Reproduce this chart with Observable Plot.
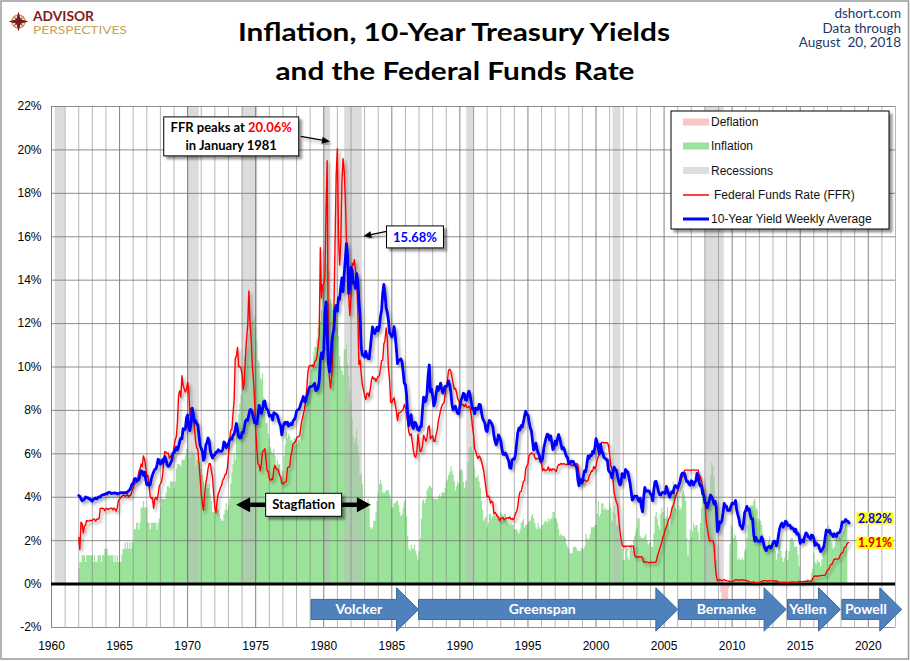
<!DOCTYPE html>
<html>
<head>
<meta charset="utf-8">
<script src="https://cdn.jsdelivr.net/npm/d3@7"></script>
<script src="https://cdn.jsdelivr.net/npm/@observablehq/plot@0.6"></script>
<style>
html,body{margin:0;padding:0;background:#fff;}
#chart{position:relative;width:910px;height:661px;overflow:hidden;}
</style>
</head>
<body>
<div id="chart"></div>
<script>
// ---------- DATA (monthly, starting January 1962) ----------
const START = 1962;

// CPI year-over-year inflation, % (Jan 1962 - Jul 2018)
const inflation = [
0.7,1.0,1.0,1.3,1.3,1.3,1.0,1.3,1.3,1.3,1.3,1.3,
1.3,1.0,1.3,1.0,1.0,1.3,1.3,1.3,1.0,1.3,1.3,1.6,
1.6,1.6,1.3,1.3,1.3,1.3,1.3,1.0,1.3,1.0,1.3,1.0,
1.0,1.0,1.3,1.6,1.6,1.9,1.6,1.9,1.6,1.9,1.6,1.9,
1.9,2.5,2.5,2.8,2.8,2.5,2.8,3.5,3.5,3.8,3.5,3.5,
3.5,2.8,2.8,2.5,2.8,2.8,2.8,2.8,2.8,2.5,2.8,3.0,
3.6,3.9,3.9,3.9,3.9,4.2,4.5,4.5,4.4,4.7,4.7,4.7,
4.4,4.7,5.3,5.5,5.5,5.5,5.4,5.7,5.7,5.7,5.9,6.2,
6.2,6.1,5.8,6.1,6.1,6.0,6.0,5.4,5.7,5.7,5.6,5.6,
5.3,5.0,4.7,4.2,4.4,4.6,4.4,4.6,4.1,3.8,3.3,3.3,
3.3,3.6,3.4,3.4,3.2,3.0,2.9,2.9,3.2,3.4,3.7,3.4,
3.6,3.9,4.6,5.1,5.5,6.0,5.7,7.4,7.4,7.8,8.3,8.7,
9.4,10.0,10.4,10.1,10.7,10.9,11.5,10.9,11.9,12.1,12.2,12.3,
11.8,11.2,10.3,10.2,9.5,9.4,9.7,8.6,7.9,7.4,7.4,6.9,
6.7,6.3,6.1,6.0,6.2,5.9,5.4,5.7,5.5,5.5,4.9,4.9,
5.2,5.9,6.4,7.0,6.7,6.9,6.8,6.6,6.6,6.4,6.7,6.7,
6.8,6.4,6.6,6.5,6.9,7.4,7.7,7.8,8.3,8.9,8.9,9.0,
9.3,9.9,10.1,10.5,10.9,10.9,11.3,11.8,12.2,12.1,12.6,13.3,
13.9,14.2,14.8,14.7,14.4,14.4,13.1,12.9,12.6,12.8,12.6,12.5,
11.8,11.4,10.5,10.0,9.8,9.6,10.8,10.8,11.0,10.1,9.6,8.9,
8.4,7.6,6.8,6.5,6.7,7.1,6.4,5.9,5.0,5.1,4.6,3.8,
3.7,3.5,3.6,3.9,3.5,2.6,2.5,2.6,2.9,2.9,3.3,3.8,
4.2,4.6,4.8,4.6,4.2,4.2,4.2,4.3,4.3,4.3,4.1,3.9,
3.5,3.5,3.7,3.7,3.8,3.8,3.6,3.3,3.1,3.2,3.5,3.8,
3.9,3.1,2.2,1.6,1.5,1.8,1.6,1.6,1.8,1.5,1.3,1.1,
1.5,2.1,3.0,3.8,3.9,3.7,3.9,4.3,4.4,4.5,4.5,4.4,
4.0,3.9,3.9,3.9,3.9,4.0,4.1,4.0,4.2,4.2,4.2,4.4,
4.7,4.8,5.0,5.1,5.4,5.2,5.0,4.7,4.3,4.5,4.7,4.6,
5.2,5.3,5.2,4.7,4.4,4.7,4.8,5.6,6.2,6.3,6.3,6.1,
5.7,5.3,4.9,4.9,5.0,4.7,4.4,3.8,3.4,2.9,3.0,3.1,
2.6,2.8,3.2,3.2,3.0,3.1,3.2,3.1,3.0,3.2,3.0,2.9,
3.3,3.2,3.1,3.2,3.2,3.0,2.8,2.8,2.7,2.8,2.7,2.7,
2.5,2.5,2.5,2.4,2.3,2.5,2.8,2.9,3.0,2.6,2.7,2.7,
2.8,2.9,2.9,3.1,3.2,3.0,2.8,2.6,2.5,2.8,2.6,2.5,
2.7,2.7,2.8,2.9,2.9,2.8,3.0,2.9,3.0,3.0,3.3,3.3,
3.0,3.0,2.8,2.5,2.2,2.3,2.2,2.2,2.2,2.1,1.8,1.7,
1.6,1.4,1.4,1.4,1.7,1.7,1.7,1.6,1.5,1.5,1.5,1.6,
1.7,1.6,1.7,2.3,2.1,2.0,2.1,2.3,2.6,2.6,2.6,2.7,
2.7,3.2,3.8,3.1,3.2,3.7,3.7,3.4,3.5,3.4,3.4,3.4,
3.7,3.5,2.9,3.3,3.6,3.2,2.7,2.7,2.6,2.1,1.9,1.6,
1.1,1.1,1.5,1.6,1.2,1.1,1.5,1.8,1.5,2.0,2.2,2.4,
2.6,3.0,3.0,2.2,2.1,2.1,2.1,2.2,2.3,2.0,1.8,1.9,
1.9,1.7,1.7,2.3,3.1,3.3,3.0,2.7,2.5,3.2,3.5,3.3,
3.0,3.0,3.1,3.5,2.8,2.5,3.2,3.6,4.7,4.3,3.5,3.4,
4.0,3.6,3.4,3.5,4.2,4.3,4.1,3.8,2.1,1.3,2.0,2.5,
2.1,2.4,2.8,2.6,2.7,2.7,2.4,2.0,2.8,3.5,4.3,4.1,
4.3,4.0,4.0,3.9,4.2,5.0,5.6,5.4,4.9,3.7,1.1,0.1,
0.0,0.2,-0.4,-0.7,-1.3,-1.4,-2.1,-1.5,-1.3,-0.2,1.8,2.7,
2.6,2.1,2.3,2.2,2.0,1.1,1.2,1.1,1.1,1.2,1.1,1.5,
1.6,2.1,2.7,3.2,3.6,3.6,3.6,3.8,3.9,3.5,3.4,3.0,
2.9,2.9,2.7,2.3,1.7,1.7,1.4,1.7,2.0,2.2,1.8,1.7,
1.6,2.0,1.5,1.1,1.4,1.8,2.0,1.5,1.2,1.0,1.2,1.5,
1.6,1.1,1.5,2.0,2.1,2.1,2.0,1.7,1.7,1.7,1.3,0.8,
-0.1,0.0,-0.1,-0.2,0.0,0.1,0.2,0.2,0.0,0.2,0.5,0.7,
1.4,1.0,0.9,1.1,1.0,1.0,0.8,1.1,1.5,1.6,1.7,2.1,
2.5,2.7,2.4,2.2,1.9,1.6,1.7,1.9,2.2,2.0,2.2,2.1,
2.1,2.2,2.4,2.5,2.8,2.9,2.9
];

// Federal Funds Rate, % (Jan 1962 - Aug 2018)
const ffr = [
2.15,1.6,2.85,2.78,2.36,2.68,2.71,2.93,2.90,2.90,2.94,2.93,
2.92,3.00,2.98,2.90,3.00,2.99,3.02,3.49,3.48,3.50,3.48,3.38,
3.48,3.48,3.43,3.47,3.50,3.50,3.42,3.50,3.45,3.36,3.52,3.85,
3.90,3.98,4.04,4.09,4.10,4.04,4.09,4.12,4.01,4.08,4.10,4.32,
4.42,4.60,4.65,4.67,4.90,5.17,5.30,5.53,5.40,5.90,5.76,5.40,
4.94,5.00,4.53,4.05,3.94,3.98,3.50,3.90,3.99,3.88,4.13,4.51,
4.61,4.71,5.05,5.76,6.11,6.07,6.02,6.03,5.78,5.91,5.82,6.02,
6.30,6.64,6.79,7.41,8.67,8.90,8.61,9.60,9.15,9.00,8.85,8.97,
9.30,8.98,7.76,8.10,7.94,7.60,7.21,6.61,6.29,6.20,5.60,4.90,
4.14,3.72,3.40,4.15,4.63,4.91,5.31,5.56,5.55,5.20,4.91,4.14,
3.50,3.29,3.83,4.17,4.27,4.46,4.55,4.80,4.87,5.04,5.06,5.33,
5.94,6.58,7.09,7.12,7.84,8.49,10.40,10.50,10.90,10.01,10.03,9.95,
9.65,8.97,9.35,10.51,11.31,11.93,13.50,12.01,11.34,10.06,9.45,8.53,
7.13,6.24,5.54,5.49,5.22,5.55,6.10,6.14,6.24,5.82,5.22,5.20,
4.87,4.77,4.84,4.82,5.29,5.48,5.31,5.29,5.25,5.02,4.95,4.65,
4.61,4.68,4.69,4.73,5.35,5.39,5.42,5.90,6.14,6.47,6.51,6.56,
6.70,6.78,6.79,6.89,7.36,7.60,7.81,8.04,8.45,8.96,9.76,10.03,
10.07,10.06,10.09,10.01,10.24,10.29,10.47,10.94,11.43,15.50,13.18,13.78,
13.82,14.13,17.19,19.50,10.98,9.47,9.03,9.61,10.87,12.81,15.85,18.90,
20.06,15.93,14.70,15.72,18.52,19.60,19.04,17.82,15.87,15.08,13.31,12.37,
13.22,14.78,14.68,14.94,14.45,14.15,12.59,10.12,10.31,9.71,9.20,8.95,
8.68,8.51,8.77,8.80,8.63,8.98,9.37,9.56,9.45,9.48,9.34,9.47,
9.56,9.59,9.91,10.29,10.32,11.06,11.23,11.80,11.30,9.99,9.43,8.38,
8.35,8.50,8.58,8.27,7.97,7.53,7.88,7.90,7.92,7.99,8.05,8.27,
8.14,7.86,7.48,6.99,6.85,6.92,6.56,6.17,5.89,5.85,6.04,6.91,
6.43,6.10,6.13,6.37,6.85,6.73,6.58,6.73,7.22,7.29,6.69,6.77,
6.83,6.58,6.58,6.87,7.09,7.51,7.75,8.01,8.19,8.30,8.35,8.76,
9.12,9.36,9.85,9.90,9.81,9.53,9.24,8.99,9.02,8.84,8.55,8.45,
8.23,8.24,8.28,8.26,8.18,8.29,8.15,8.13,8.20,8.11,7.81,7.31,
6.91,6.25,6.12,5.91,5.78,5.90,5.82,5.66,5.45,5.21,4.81,4.43,
4.03,4.06,3.98,3.73,3.82,3.76,3.25,3.30,3.22,3.10,3.09,2.92,
3.02,3.03,3.07,2.96,3.00,3.04,3.06,3.03,3.09,2.99,3.02,2.96,
3.05,3.25,3.34,3.56,4.01,4.25,4.26,4.47,4.73,4.76,5.29,5.45,
5.53,5.92,5.98,6.05,6.01,6.00,5.85,5.74,5.80,5.76,5.80,5.60,
5.56,5.22,5.31,5.22,5.24,5.27,5.40,5.22,5.30,5.24,5.31,5.29,
5.25,5.19,5.39,5.51,5.50,5.56,5.52,5.54,5.54,5.50,5.52,5.50,
5.56,5.51,5.49,5.45,5.49,5.56,5.54,5.55,5.51,5.07,4.83,4.68,
4.63,4.76,4.81,4.74,4.74,4.76,4.99,5.07,5.22,5.20,5.42,5.30,
5.45,5.73,5.85,6.02,6.27,6.53,6.54,6.50,6.52,6.51,6.51,6.40,
5.98,5.49,5.31,4.80,4.21,3.97,3.77,3.65,3.07,2.49,2.09,1.82,
1.73,1.74,1.73,1.75,1.75,1.75,1.73,1.74,1.75,1.75,1.34,1.24,
1.24,1.26,1.25,1.26,1.26,1.22,1.01,1.03,1.01,1.01,1.00,0.98,
1.00,1.01,1.00,1.00,1.00,1.03,1.26,1.43,1.61,1.76,1.93,2.16,
2.28,2.50,2.63,2.79,3.00,3.04,3.26,3.50,3.62,3.78,4.00,4.16,
4.29,4.49,4.59,4.79,4.94,4.99,5.24,5.25,5.25,5.25,5.25,5.24,
5.25,5.26,5.26,5.25,5.25,5.25,5.26,5.02,4.94,4.76,4.49,4.24,
3.94,2.98,2.61,2.28,1.98,2.00,2.01,2.00,1.81,0.97,0.39,0.16,
0.15,0.22,0.18,0.15,0.18,0.21,0.16,0.16,0.15,0.12,0.12,0.12,
0.11,0.13,0.16,0.20,0.20,0.18,0.18,0.19,0.19,0.19,0.19,0.18,
0.17,0.16,0.14,0.10,0.09,0.09,0.07,0.10,0.08,0.07,0.08,0.07,
0.08,0.10,0.13,0.14,0.16,0.16,0.16,0.13,0.14,0.16,0.16,0.16,
0.14,0.15,0.14,0.15,0.11,0.09,0.09,0.08,0.08,0.09,0.08,0.09,
0.07,0.07,0.08,0.09,0.09,0.10,0.09,0.09,0.09,0.09,0.09,0.12,
0.11,0.11,0.11,0.12,0.12,0.13,0.13,0.14,0.14,0.12,0.12,0.24,
0.34,0.38,0.36,0.37,0.37,0.38,0.39,0.40,0.40,0.40,0.41,0.54,
0.65,0.66,0.79,0.90,0.91,1.04,1.15,1.16,1.15,1.15,1.16,1.30,
1.41,1.42,1.51,1.69,1.70,1.82,1.91,1.91
];

// 10-Year Treasury yield, % (Jan 1962 - Aug 2018)
const yield10 = [
4.08,4.04,3.93,3.84,3.87,3.91,4.01,3.98,3.98,3.93,3.92,3.86,
3.83,3.92,3.93,3.97,3.93,3.99,4.02,4.00,4.08,4.11,4.12,4.13,
4.17,4.15,4.22,4.23,4.20,4.17,4.19,4.19,4.20,4.19,4.15,4.18,
4.19,4.21,4.21,4.20,4.21,4.21,4.20,4.25,4.29,4.35,4.45,4.62,
4.61,4.83,4.87,4.75,4.78,4.81,5.02,5.22,5.18,5.01,5.16,4.84,
4.58,4.63,4.54,4.59,4.85,5.02,5.16,5.28,5.30,5.48,5.75,5.70,
5.53,5.56,5.74,5.64,5.87,5.72,5.50,5.42,5.46,5.58,5.70,6.03,
6.04,6.19,6.30,6.17,6.32,6.57,6.72,6.69,7.16,7.10,7.14,7.65,
7.79,7.24,7.07,7.39,8.10,7.84,7.46,7.53,7.39,7.33,6.84,6.39,
6.24,6.11,5.70,5.83,6.39,6.52,6.73,6.58,6.14,5.93,5.81,5.93,
5.95,6.08,6.07,6.19,6.13,6.11,6.11,6.21,6.55,6.48,6.28,6.36,
6.46,6.64,6.71,6.67,6.85,6.90,7.13,7.40,7.09,6.79,6.73,6.74,
6.99,6.96,7.21,7.51,7.58,7.54,7.81,8.04,8.04,7.90,7.68,7.43,
7.50,7.39,7.73,8.23,8.06,7.86,8.06,8.40,8.43,8.14,8.05,8.00,
7.74,7.79,7.73,7.56,7.90,7.86,7.83,7.77,7.59,7.41,7.29,6.87,
7.21,7.39,7.46,7.37,7.46,7.28,7.33,7.40,7.34,7.52,7.58,7.69,
7.96,8.03,8.04,8.15,8.35,8.46,8.64,8.41,8.42,8.64,8.81,9.01,
9.10,9.10,9.12,9.18,9.25,8.91,8.95,9.03,9.33,10.30,10.65,10.39,
10.80,12.41,13.00,11.47,10.18,9.78,10.25,11.10,11.51,11.75,12.68,12.84,
12.57,13.19,13.12,13.68,14.10,13.47,14.28,14.94,15.68,15.15,13.39,13.72,
14.59,14.43,13.86,13.87,13.62,14.30,13.95,13.06,12.34,10.91,10.55,10.54,
10.46,10.72,10.51,10.40,10.38,10.85,11.38,11.85,11.65,11.54,11.69,11.83,
11.67,11.84,12.32,12.63,13.41,13.80,13.36,12.72,12.52,12.16,11.57,11.50,
11.38,11.51,11.86,11.43,10.85,10.16,10.31,10.33,10.37,10.24,9.78,9.26,
9.19,8.70,7.78,7.30,7.71,7.80,7.30,7.17,7.45,7.43,7.25,7.11,
7.08,7.25,7.25,8.02,8.61,8.40,8.45,8.76,9.60,10.10,8.86,8.99,
8.67,8.21,8.37,8.72,9.09,8.92,9.06,9.26,8.98,8.80,8.96,9.11,
9.09,9.17,9.36,9.18,8.86,8.28,8.02,8.11,8.19,8.01,7.87,7.84,
8.21,8.47,8.59,8.79,8.76,8.48,8.47,8.75,8.89,8.72,8.39,8.08,
8.09,7.85,8.11,8.04,8.07,8.28,8.27,7.90,7.65,7.53,7.42,7.09,
7.03,7.34,7.54,7.48,7.39,7.26,6.84,6.59,6.42,6.59,6.87,6.77,
6.60,6.26,5.98,5.97,6.04,5.96,5.81,5.68,5.36,5.33,5.72,5.77,
5.75,5.97,6.48,6.97,7.18,7.10,7.30,7.24,7.46,7.74,7.96,7.81,
7.78,7.47,7.20,7.06,6.63,6.17,6.28,6.49,6.20,6.04,5.93,5.71,
5.65,5.81,6.27,6.51,6.74,6.91,6.87,6.64,6.83,6.53,6.20,6.30,
6.58,6.42,6.69,6.89,6.71,6.49,6.22,6.30,6.21,6.03,5.88,5.81,
5.54,5.57,5.65,5.64,5.65,5.50,5.46,5.34,4.81,4.53,4.83,4.65,
4.72,5.00,5.23,5.18,5.54,5.90,5.79,5.94,5.92,6.11,6.03,6.28,
6.70,6.52,6.26,5.99,6.44,6.10,6.05,5.83,5.80,5.74,5.72,5.24,
5.16,5.10,4.89,5.14,5.39,5.28,5.24,4.97,4.73,4.57,4.65,5.09,
5.04,4.91,5.28,5.21,5.16,4.93,4.65,4.26,3.87,3.94,4.05,4.03,
4.05,3.90,3.81,3.96,3.57,3.33,3.98,4.45,4.27,4.29,4.30,4.27,
4.15,4.08,3.83,4.35,4.72,4.73,4.50,4.28,4.13,4.10,4.19,4.23,
4.22,4.17,4.50,4.34,4.14,4.00,4.18,4.26,4.20,4.46,4.54,4.47,
4.42,4.57,4.72,4.99,5.11,5.11,5.09,4.88,4.72,4.73,4.60,4.56,
4.76,4.72,4.56,4.69,4.75,5.10,5.00,4.67,4.52,4.53,4.15,4.10,
3.74,3.74,3.51,3.68,3.88,4.10,4.01,3.89,3.69,3.81,3.53,2.42,
2.52,2.87,2.82,2.93,3.29,3.72,3.56,3.59,3.40,3.39,3.40,3.59,
3.73,3.69,3.73,3.85,3.42,3.20,3.01,2.70,2.65,2.54,2.76,3.29,
3.39,3.58,3.41,3.46,3.17,3.00,3.00,2.30,1.98,2.15,2.01,1.98,
1.97,1.97,2.17,2.05,1.80,1.62,1.53,1.68,1.72,1.75,1.65,1.72,
1.91,1.98,1.96,1.76,1.93,2.30,2.58,2.74,2.81,2.62,2.72,2.90,
2.86,2.71,2.72,2.71,2.56,2.60,2.54,2.42,2.53,2.30,2.33,2.21,
1.88,1.98,2.04,1.94,2.20,2.36,2.32,2.17,2.17,2.07,2.26,2.24,
2.09,1.78,1.89,1.81,1.81,1.64,1.50,1.56,1.63,1.76,2.14,2.49,
2.43,2.42,2.48,2.30,2.30,2.19,2.32,2.21,2.20,2.36,2.35,2.40,
2.58,2.86,2.84,2.87,2.98,2.91,2.89,2.82
];

// Recessions (decimal years)
const recessionStart = [1960.27, 1970.0, 1974.0, 1980.05, 1981.54, 1990.5, 2001.25, 2008.0];
const recessionEnd   = [1961.0, 1970.86, 1975.15, 1980.5, 1982.83, 1991.1, 2001.83, 2009.42];

// Fed chairs (arrow start / tip, decimal years)
const chairNames = ["Volcker", "Greenspan", "Bernanke", "Yellen", "Powell"];
const chairStart = [1979.1, 1987.0, 2006.1, 2014.1, 2018.1];
const chairEnd   = [1987.0, 2006.05, 2014.0, 2018.0, 2022.5];
const chairLevel = -1.19;

// Axis ticks
const xTicks = [1960, 1965, 1970, 1975, 1980, 1985, 1990, 1995, 2000, 2005, 2010, 2015, 2020];
const yTicks = [-2, 0, 2, 4, 6, 8, 10, 12, 14, 16, 18, 20, 22];

// Annotations (data coordinates)
const noteCenterX = [1973.24, 1986.74, 1978.56];
const noteCenterY = [20.6, 15.97, 3.63];
const noteTipX = [1980.49, 1982.94];
const noteTipY = [20.36, 16.0];
const stagSpan = [1973.6, 1983.5];
const endLabelText = ["2.82%", "1.91%"];
const endLabelY = [3.0, 1.88];

// Legend
const legendLabels = ["Deflation", "Inflation", "Recessions", "Federal Funds Rate (FFR)", "10-Year Yield Weekly Average"];

// ---------- COLORS ----------
const GREEN = "#9be29a";
const PINK = "#f9c6c6";
const REC = "#b9b9b9";
const RED = "#ff0000";
const BLUE = "#0000ff";
const CHAIR = "#4f81bd";

// ---------- BUILD ----------
const series = arr => arr.map((v, i) => ({x: START + i / 12, v}));
const inflData = series(inflation);
const ffrData = series(ffr);
const yldData = series(yield10);
const recData = recessionStart.map((s, i) => ({s, e: recessionEnd[i]}));
const allYears = d3.range(1960, 2023);
const minorYears = allYears.filter(y => y % 5 !== 0);
const majorYears = allYears.filter(y => y % 5 === 0);

const chart = Plot.plot({
  width: 910, height: 661,
  marginLeft: 51, marginRight: 15, marginTop: 106, marginBottom: 34,
  style: {fontFamily: "'Liberation Sans', Arial, sans-serif", fontSize: "12px", color: "#000", background: "#fff", overflow: "visible"},
  x: {domain: [1960, 2022], ticks: xTicks, tickFormat: d => String(d), tickSize: 0, tickPadding: 14, label: null},
  y: {domain: [-2, 22], ticks: yTicks, tickFormat: d => d + "%", tickSize: 0, tickPadding: 10, label: null},
  marks: [
    Plot.areaY(inflData, {x: "x", y1: () => 0, y2: d => Math.max(0, d.v), fill: GREEN, curve: "step-after"}),
    Plot.areaY(inflData, {x: "x", y1: () => 0, y2: d => Math.min(0, d.v), fill: PINK, curve: "step-after"}),
    Plot.rect(recData, {x1: "s", x2: "e", y1: () => 0, y2: () => 22, fill: REC, fillOpacity: 0.5}),
    Plot.ruleX(minorYears, {stroke: "#7a7a7a", strokeOpacity: 0.55}),
    Plot.ruleX(majorYears, {stroke: "#5a5a5a", strokeOpacity: 0.75}),
    Plot.ruleY(yTicks.filter(v => v !== 0), {stroke: "#7a7a7a", strokeOpacity: 0.85}),
    Plot.ruleY([0], {stroke: "#000", strokeWidth: 3}),
    Plot.line(ffrData, {x: "x", y: "v", stroke: RED, strokeWidth: 1.4}),
    Plot.line(yldData, {x: "x", y: "v", stroke: BLUE, strokeWidth: 2.8})
  ]
});
document.getElementById("chart").appendChild(chart);

const svg = d3.select(chart);
const X = chart.scale("x"), Y = chart.scale("y");
const px = v => X.apply(v), py = v => Y.apply(v);

svg.selectAll("g[aria-label='x-axis tick label'] text, g[aria-label='y-axis tick label'] text")
  .attr("font-size", 12).attr("fill", "#000");

// filters
const defs = svg.append("defs");
const f1 = defs.append("filter").attr("id", "lsh").attr("x", "-5%").attr("y", "-5%").attr("width", "110%").attr("height", "110%");
f1.append("feDropShadow").attr("dx", 2).attr("dy", 2.5).attr("stdDeviation", 1.4).attr("flood-color", "#000").attr("flood-opacity", 0.35);
const f2 = defs.append("filter").attr("id", "bsh").attr("x", "-10%").attr("y", "-20%").attr("width", "130%").attr("height", "150%");
f2.append("feDropShadow").attr("dx", 3).attr("dy", 3).attr("stdDeviation", 1.2).attr("flood-color", "#000").attr("flood-opacity", 0.4);
svg.selectAll("g[aria-label='line']").attr("filter", "url(#lsh)");

const CAL = "Lato, 'Open Sans', sans-serif";

// ---------- Chair arrows ----------
const chairs = svg.append("g");
const yc = py(chairLevel), hb = 10, hh = 21.7, hl = 22;
chairNames.forEach((name, i) => {
  const x0 = px(chairStart[i]), xt = px(chairEnd[i]);
  const pts = [[x0, yc - hb], [xt - hl, yc - hb], [xt - hl, yc - hh], [xt, yc], [xt - hl, yc + hh], [xt - hl, yc + hb], [x0, yc + hb]];
  chairs.append("polygon").attr("points", pts.map(p => p.join(",")).join(" "))
    .attr("fill", CHAIR).attr("stroke", "#3c6a9e").attr("stroke-width", 1);
  chairs.append("text").attr("x", (x0 + xt - hl) / 2 + 5).attr("y", yc).attr("dy", "0.36em")
    .attr("text-anchor", "middle").attr("font-family", CAL).attr("font-weight", "bold")
    .attr("font-size", 14).attr("fill", "#fff").text(name);
});

// ---------- Annotations ----------
const ann = svg.append("g").attr("font-family", CAL).attr("font-weight", "bold");
function arrowLine(g, x1, y1, x2, y2, w, hlen, hhalf) {
  const a = Math.atan2(y2 - y1, x2 - x1), c = Math.cos(a), s = Math.sin(a);
  const bx = x2 - hlen * c, by = y2 - hlen * s;
  g.append("line").attr("x1", x1).attr("y1", y1).attr("x2", bx).attr("y2", by)
    .attr("stroke", "#000").attr("stroke-width", w);
  g.append("polygon").attr("points", [[x2, y2], [bx - hhalf * s, by + hhalf * c], [bx + hhalf * s, by - hhalf * c]].map(p => p.join(",")).join(" "))
    .attr("fill", "#000");
}
// FFR peak note
{
  const cx = px(noteCenterX[0]), cy = py(noteCenterY[0]), w = 135, h = 39;
  ann.append("rect").attr("x", cx - w / 2).attr("y", cy - h / 2).attr("width", w).attr("height", h)
    .attr("fill", "#fff").attr("stroke", "#000").attr("filter", "url(#bsh)");
  const t = ann.append("text").attr("x", cx).attr("y", cy - 9).attr("dy", "0.36em").attr("text-anchor", "middle").attr("font-size", 13).attr("fill", "#000");
  t.append("tspan").text("FFR peaks at ");
  t.append("tspan").attr("fill", RED).text("20.06%");
  ann.append("text").attr("x", cx).attr("y", cy + 9).attr("dy", "0.36em").attr("text-anchor", "middle").attr("font-size", 13).attr("fill", "#000").text("in January 1981");
  const ag = ann.append("g").attr("filter", "url(#lsh)");
  arrowLine(ag, cx + w / 2 + 2, cy, px(noteTipX[0]), py(noteTipY[0]), 1.2, 8, 3.5);
}
// 10-year peak note
{
  const cx = px(noteCenterX[1]), cy = py(noteCenterY[1]), w = 57, h = 22;
  ann.append("rect").attr("x", cx - w / 2).attr("y", cy - h / 2).attr("width", w).attr("height", h)
    .attr("fill", "#fff").attr("stroke", "#000").attr("filter", "url(#bsh)");
  ann.append("text").attr("x", cx).attr("y", cy).attr("dy", "0.36em").attr("text-anchor", "middle").attr("font-size", 13).attr("fill", BLUE).text("15.68%");
  const ag = ann.append("g").attr("filter", "url(#lsh)");
  arrowLine(ag, cx - w / 2, cy - 5.5, px(noteTipX[1]), py(noteTipY[1]), 1.2, 8, 3.5);
}
// Stagflation
{
  const cx = px(noteCenterX[2]), cy = py(noteCenterY[2]), w = 76, h = 23;
  arrowLine(ann, cx - w / 2, cy, px(stagSpan[0]), cy, 4.5, 14, 7.5);
  arrowLine(ann, cx + w / 2, cy, px(stagSpan[1]), cy, 4.5, 14, 7.5);
  ann.append("rect").attr("x", cx - w / 2).attr("y", cy - h / 2).attr("width", w).attr("height", h)
    .attr("fill", "#fff").attr("stroke", "#000").attr("filter", "url(#bsh)");
  ann.append("text").attr("x", cx).attr("y", cy).attr("dy", "0.36em").attr("text-anchor", "middle").attr("font-size", 13).attr("fill", "#000").text("Stagflation");
}
// End labels
{
  const lastX = px(START + (yield10.length - 1) / 12);
  const cols = [BLUE, "#e00000"];
  endLabelText.forEach((txt, i) => {
    const y = py(endLabelY[i]);
    ann.append("rect").attr("x", lastX + 8).attr("y", y - 6).attr("width", 37).attr("height", 12).attr("fill", "#ffff00");
    ann.append("text").attr("x", lastX + 9.5).attr("y", y).attr("dy", "0.36em").attr("font-size", 13)
      .attr("text-anchor", "start")
      .attr("textLength", 34).attr("lengthAdjust", "spacingAndGlyphs").attr("fill", cols[i]).text(txt);
  });
}

// ---------- Legend ----------
{
  const lg = svg.append("g").attr("font-family", "'Liberation Sans', Arial, sans-serif").attr("font-size", 12).attr("text-anchor", "start");
  lg.append("rect").attr("x", 671).attr("y", 111).attr("width", 218).attr("height", 118)
    .attr("fill", "#fff").attr("stroke", "#000").attr("filter", "url(#bsh)");
  const ys = [122, 146, 170.5, 195, 219];
  const fills = [PINK, GREEN, "#dedede"];
  legendLabels.forEach((lab, i) => {
    if (i < 3) {
      lg.append("rect").attr("x", 683).attr("y", ys[i] - 3.5).attr("width", 26).attr("height", 7).attr("fill", fills[i]);
    } else {
      lg.append("line").attr("x1", 683).attr("x2", 709).attr("y1", ys[i]).attr("y2", ys[i])
        .attr("stroke", i === 3 ? RED : BLUE).attr("stroke-width", i === 3 ? 1.5 : 3);
    }
    lg.append("text").attr("x", i === 3 ? 714 : 711).attr("y", ys[i]).attr("dy", "0.36em")
      .attr("text-anchor", "start").attr("fill", "#111").text(lab);
  });
}

// ---------- Header ----------
{
  const hd = svg.append("g");
  hd.append("text").attr("x", 454).attr("y", 41).attr("text-anchor", "middle")
    .attr("font-family", CAL).attr("font-weight", "bold").attr("font-size", 25)
    .attr("textLength", 432).attr("lengthAdjust", "spacingAndGlyphs").attr("fill", "#000")
    .text("Inflation, 10-Year Treasury Yields");
  hd.append("text").attr("x", 455).attr("y", 80).attr("text-anchor", "middle")
    .attr("font-family", CAL).attr("font-weight", "bold").attr("font-size", 25)
    .attr("textLength", 359).attr("lengthAdjust", "spacingAndGlyphs").attr("fill", "#000")
    .text("and the Federal Funds Rate");
  const rt = ["dshort.com", "Data through", "August\u00a0\u00a020, 2018"];
  const rty = [18, 32.5, 47];
  rt.forEach((t, i) => hd.append("text").attr("x", 901).attr("y", rty[i]).attr("text-anchor", "end")
    .attr("font-family", CAL).attr("font-size", 13.5).attr("fill", "#1f3864").text(t));
  // logo
  const lo = hd.append("g").attr("transform", "translate(18.5,21.5)");
  lo.append("circle").attr("r", 6.5).attr("fill", "none").attr("stroke", "#c9a35a").attr("stroke-width", 1.6);
  lo.append("polygon").attr("points", "0,-10 2.2,-2.2 10,0 2.2,2.2 0,10 -2.2,2.2 -10,0 -2.2,-2.2").attr("fill", "#7e1d1d");
  lo.append("polygon").attr("points", "-5,-5 0,-1.5 5,-5 1.5,0 5,5 0,1.5 -5,5 -1.5,0").attr("fill", "#7e1d1d");
  hd.append("text").attr("x", 33).attr("y", 20.5).attr("text-anchor", "start").attr("font-family", CAL).attr("font-weight", "bold")
    .attr("font-size", 12.5).attr("textLength", 61).attr("lengthAdjust", "spacingAndGlyphs").attr("fill", "#7e1d1d").text("ADVISOR");
  hd.append("text").attr("x", 33).attr("y", 34).attr("text-anchor", "start").attr("font-family", CAL)
    .attr("font-size", 10.5).attr("textLength", 94).attr("lengthAdjust", "spacingAndGlyphs").attr("fill", "#c9a35a").text("PERSPECTIVES");
  // outer border
  svg.append("rect").attr("x", 1).attr("y", 1).attr("width", 907.5).attr("height", 658)
    .attr("fill", "none").attr("stroke", "#999").attr("stroke-width", 1.5);
}
</script>
</body>
</html>
